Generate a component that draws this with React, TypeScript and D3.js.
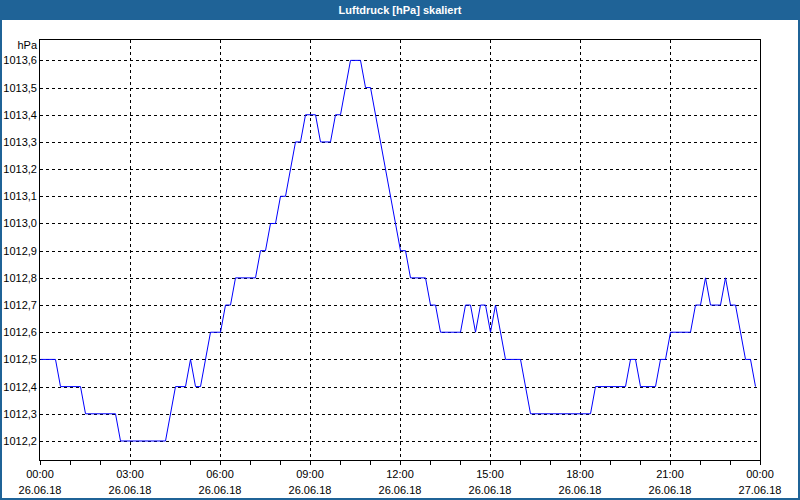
import React from "react";
import * as d3 from "d3";

const title = "Luftdruck [hPa] skaliert";
const unit = "hPa";
// vertex times in minutes since 26.06.18 00:00
const times = [0, 30, 40, 80, 90, 150, 160, 250, 270, 290, 300, 310, 320, 340, 360, 370, 380, 390, 430, 440, 450, 460, 470, 480, 490, 510, 520, 530, 550, 560, 580, 590, 600, 620, 640, 650, 660, 720, 730, 740, 770, 780, 790, 800, 840, 850, 860, 870, 880, 890, 900, 910, 930, 960, 980, 1100, 1110, 1170, 1180, 1190, 1200, 1230, 1240, 1250, 1260, 1300, 1310, 1320, 1330, 1340, 1360, 1370, 1380, 1390, 1410, 1420, 1430];
const values = [1012.5, 1012.5, 1012.4, 1012.4, 1012.3, 1012.3, 1012.2, 1012.2, 1012.4, 1012.4, 1012.5, 1012.4, 1012.4, 1012.6, 1012.6, 1012.7, 1012.7, 1012.8, 1012.8, 1012.9, 1012.9, 1013.0, 1013.0, 1013.1, 1013.1, 1013.3, 1013.3, 1013.4, 1013.4, 1013.3, 1013.3, 1013.4, 1013.4, 1013.6, 1013.6, 1013.5, 1013.5, 1012.9, 1012.9, 1012.8, 1012.8, 1012.7, 1012.7, 1012.6, 1012.6, 1012.7, 1012.7, 1012.6, 1012.7, 1012.7, 1012.6, 1012.7, 1012.5, 1012.5, 1012.3, 1012.3, 1012.4, 1012.4, 1012.5, 1012.5, 1012.4, 1012.4, 1012.5, 1012.5, 1012.6, 1012.6, 1012.7, 1012.7, 1012.8, 1012.7, 1012.7, 1012.8, 1012.7, 1012.7, 1012.5, 1012.5, 1012.4];
const yTicks = [1012.2, 1012.3, 1012.4, 1012.5, 1012.6, 1012.7, 1012.8, 1012.9, 1013.0, 1013.1, 1013.2, 1013.3, 1013.4, 1013.5, 1013.6];
const xTickMinutes = [0, 180, 360, 540, 720, 900, 1080, 1260, 1440];
const xTimeLabels = ["00:00", "03:00", "06:00", "09:00", "12:00", "15:00", "18:00", "21:00", "00:00"];
const xDateLabels = ["26.06.18", "26.06.18", "26.06.18", "26.06.18", "26.06.18", "26.06.18", "26.06.18", "26.06.18", "27.06.18"];
const minorTickMinutes = d3.range(0, 1441, 60);

const W = 800, H = 500;
const L = 40, R = 760, T = 40, B = 460;
const font = "'Liberation Sans', Arial, sans-serif";
const barColor = "#1f6397";

export default function App() {
  const x = d3.scaleLinear().domain([0, 1440]).range([L, R]);
  const y = d3.scaleLinear().domain([1012.13, 1013.675]).range([B, T]);
  const px = (v: number) => Math.round(v) + 0.5;
  const line = d3.line<number>().x((_, i) => x(times[i]) + 0.5).y((d) => y(d));
  return (
    <svg width={W} height={H} style={{ position: "absolute", left: 0, top: 0, background: "#fff" }} fontFamily={font}>
      <rect x={0} y={0} width={W} height={H} fill="#fff" />
      <rect x={0} y={0} width={W} height={20} fill={barColor} />
      <rect x={0.5} y={0.5} width={W - 1} height={H - 1} fill="none" stroke={barColor} strokeWidth={1} />
      <line x1={1.5} x2={1.5} y1={20} y2={H} stroke={barColor} />
      <line x1={W - 1.5} x2={W - 1.5} y1={20} y2={H} stroke={barColor} />
      <line x1={0} x2={W} y1={H - 1.5} y2={H - 1.5} stroke={barColor} />
      <text x={W / 2} y={14} textAnchor="middle" fill="#fff" fontWeight="bold" fontSize={11}>{title}</text>
      {yTicks.map((t) => (
        <g key={"y" + t}>
          <line x1={L} x2={R} y1={px(y(t))} y2={px(y(t))} stroke="#000" strokeDasharray="3,3" shapeRendering="crispEdges" />
          <text x={37} y={y(t) + 4} textAnchor="end" fontSize={11} fill="#000">{t.toFixed(1).replace(".", ",")}</text>
        </g>
      ))}
      {xTickMinutes.map((m, i) => (
        <g key={"x" + i}>
          {i > 0 && i < xTickMinutes.length - 1 && (
            <line x1={px(x(m))} x2={px(x(m))} y1={T} y2={B} stroke="#000" strokeDasharray="3,3" shapeRendering="crispEdges" />
          )}
          <text x={x(m)} y={478} textAnchor="middle" fontSize={11} fill="#000">{xTimeLabels[i]}</text>
          <text x={x(m)} y={494} textAnchor="middle" fontSize={11} fill="#000">{xDateLabels[i]}</text>
        </g>
      ))}
      {minorTickMinutes.map((m) => (
        <line key={"m" + m} x1={px(x(m))} x2={px(x(m))} y1={B} y2={B + 5} stroke="#000" shapeRendering="crispEdges" />
      ))}
      <text x={37} y={49} textAnchor="end" fontSize={11} fill="#000">{unit}</text>
      <path d={line(values) || ""} fill="none" stroke="#0000ff" strokeWidth={1} />
      <rect x={L - 0.5} y={T - 0.5} width={R - L + 1} height={B - T + 1} fill="none" stroke="#000" strokeWidth={1} shapeRendering="crispEdges" />
    </svg>
  );
}
